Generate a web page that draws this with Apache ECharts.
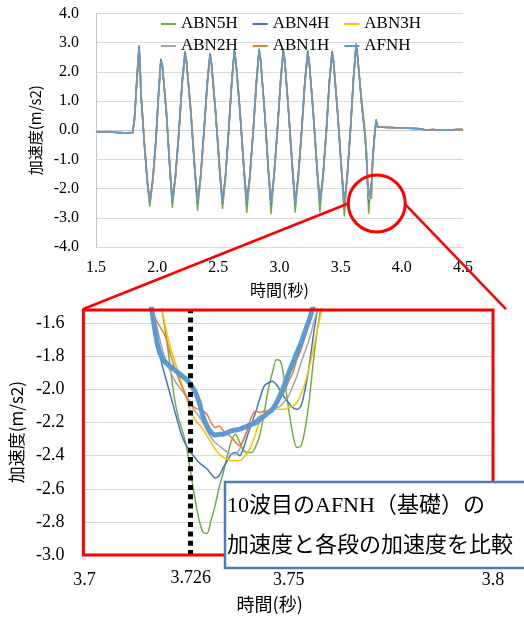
<!DOCTYPE html>
<html>
<head>
<meta charset="utf-8">
<script src="https://cdn.jsdelivr.net/npm/echarts@6/dist/echarts.min.js"></script>
<style>
  html, body { margin: 0; padding: 0; background: #fff; }
  #main { width: 524px; height: 617px; }
</style>
</head>
<body>
<div id="main"></div>
<script>
// Sample times (s): whole record, the 10th-trough detail window, and the settling tail
const timeHead = [
  1.50, 1.55, 1.60, 1.65, 1.70, 1.75, 1.80,
  1.815, 1.835, 1.852,
  1.860, 1.866, 1.895, 1.920, 1.940,
  1.965, 1.990, 2.012, 2.030,
  2.042, 2.075, 2.105, 2.124,
  2.150, 2.178, 2.205, 2.228,
  2.240, 2.275, 2.308, 2.330,
  2.355, 2.383, 2.410, 2.432,
  2.444, 2.478, 2.512, 2.534,
  2.558, 2.585, 2.610, 2.631,
  2.643, 2.677, 2.710, 2.732,
  2.757, 2.785, 2.812, 2.833,
  2.845, 2.878, 2.910, 2.931,
  2.955, 2.983, 3.010, 3.031,
  3.043, 3.075, 3.107, 3.128,
  3.153, 3.181, 3.208, 3.231,
  3.243, 3.276, 3.309, 3.330,
  3.355, 3.383, 3.408, 3.430,
  3.442, 3.476, 3.509, 3.530,
  3.553, 3.580, 3.605, 3.626,
  3.638, 3.672, 3.700
];
const timeFine = [
  3.713, 3.714, 3.715, 3.716, 3.717, 3.718, 3.719, 3.720, 3.721, 3.722,
  3.723, 3.724, 3.725, 3.726, 3.727, 3.728, 3.729, 3.730, 3.731, 3.732,
  3.733, 3.734, 3.735, 3.736, 3.737, 3.738, 3.739, 3.740, 3.741, 3.742,
  3.743, 3.744, 3.745, 3.746, 3.747, 3.748, 3.749, 3.750, 3.751, 3.752,
  3.753, 3.754, 3.755, 3.756, 3.757, 3.758, 3.759, 3.760
];
const timeTail = [
  3.765, 3.772, 3.780, 3.790, 3.797, 3.805, 3.820, 3.850, 3.900, 3.950,
  4.000, 4.050, 4.100, 4.150, 4.200, 4.250, 4.300, 4.350, 4.400, 4.450, 4.500
];

// ABN5H (m/s2)
const abn5hHead = [
  -0.04, -0.07, -0.05, -0.07, -0.10, -0.09, -0.07,
  0.45, 1.85, 2.92,
  2.35, 1.35, -0.45, -1.85, -2.62,
  -1.70, -0.30, 1.35, 2.45,
  2.25, 0.60, -1.45, -2.66,
  -1.60, 0.00, 1.75, 2.72,
  2.35, 0.60, -1.45, -2.76,
  -1.65, 0.00, 1.70, 2.65,
  2.30, 0.55, -1.50, -2.70,
  -1.70, 0.05, 1.75, 2.76,
  2.40, 0.60, -1.45, -2.83,
  -1.65, 0.00, 1.75, 2.80,
  2.45, 0.60, -1.50, -2.88,
  -1.60, 0.05, 1.80, 2.78,
  2.40, 0.55, -1.45, -2.82,
  -1.65, 0.00, 1.75, 2.75,
  2.35, 0.55, -1.50, -2.82,
  -1.65, 0.00, 1.75, 2.72,
  2.35, 0.50, -1.55, -2.95,
  -1.65, 0.05, 1.85, 2.98,
  2.55, 0.85, -0.25
];
const abn5hFine = [
  -0.75, -0.86, -0.98, -1.11, -1.25, -1.38, -1.52, -1.68, -1.86, -2.05,
  -2.17, -2.25, -2.35, -2.50, -2.65, -2.78, -2.86, -2.87, -2.79, -2.70,
  -2.59, -2.50, -2.40, -2.31, -2.27, -2.32, -2.37, -2.38, -2.38, -2.34,
  -2.27, -2.14, -2.00, -1.90, -1.82, -1.83, -1.95, -2.12, -2.27, -2.35,
  -2.34, -2.24, -2.07, -1.84, -1.64, -1.49, -1.36, -1.24
];
const abn5hTail = [
  -0.95, -0.40, 0.05, 0.38, 0.20, 0.10, 0.09, 0.10, 0.08, 0.08,
  0.07, 0.07, 0.06, 0.05, 0.01, 0.02, 0.01, 0.00, 0.01, 0.02, 0.02
];

// ABN4H (m/s2)
const abn4hHead = [
  -0.05, -0.05, -0.06, -0.07, -0.08, -0.10, -0.09,
  0.42, 1.82, 2.85,
  2.40, 1.35, -0.45, -1.80, -2.50,
  -1.65, -0.30, 1.30, 2.40,
  2.25, 0.65, -1.40, -2.45,
  -1.55, 0.00, 1.70, 2.65,
  2.35, 0.65, -1.40, -2.50,
  -1.60, 0.00, 1.65, 2.60,
  2.30, 0.60, -1.45, -2.50,
  -1.60, 0.05, 1.70, 2.72,
  2.40, 0.65, -1.40, -2.52,
  -1.60, 0.00, 1.70, 2.74,
  2.45, 0.65, -1.45, -2.55,
  -1.55, 0.05, 1.75, 2.72,
  2.40, 0.60, -1.40, -2.52,
  -1.60, 0.00, 1.70, 2.70,
  2.35, 0.60, -1.45, -2.52,
  -1.60, 0.00, 1.70, 2.68,
  2.35, 0.55, -1.50, -2.55,
  -1.60, 0.05, 1.80, 2.92,
  2.55, 0.90, -0.20
];
const abn4hFine = [
  -1.10, -1.22, -1.34, -1.46, -1.60, -1.74, -1.85, -1.94, -2.03, -2.12,
  -2.21, -2.29, -2.34, -2.38, -2.41, -2.44, -2.46, -2.48, -2.51, -2.535,
  -2.52, -2.47, -2.43, -2.39, -2.38, -2.40, -2.35, -2.27, -2.20, -2.13,
  -2.05, -1.98, -1.96, -1.95, -1.97, -2.01, -2.05, -2.08, -2.11, -2.12,
  -2.10, -2.00, -1.86, -1.68, -1.52, -1.38, -1.24, -1.10
];
const abn4hTail = [
  -0.75, -0.40, 0.00, 0.32, 0.18, 0.10, 0.09, 0.10, 0.09, 0.08,
  0.07, 0.07, 0.06, 0.05, 0.00, 0.02, 0.01, 0.00, 0.01, 0.02, 0.02
];

// ABN3H (m/s2)
const abn3hHead = [
  -0.06, -0.05, -0.05, -0.08, -0.08, -0.09, -0.09,
  0.30, 1.65, 2.75,
  2.40, 1.45, -0.35, -1.70, -2.45,
  -1.75, -0.45, 1.15, 2.32,
  2.25, 0.75, -1.25, -2.40,
  -1.65, -0.15, 1.55, 2.56,
  2.35, 0.75, -1.25, -2.42,
  -1.70, -0.15, 1.50, 2.52,
  2.30, 0.70, -1.30, -2.42,
  -1.70, -0.10, 1.55, 2.64,
  2.40, 0.75, -1.25, -2.45,
  -1.70, -0.15, 1.55, 2.66,
  2.45, 0.75, -1.30, -2.46,
  -1.65, -0.10, 1.60, 2.64,
  2.40, 0.70, -1.25, -2.45,
  -1.70, -0.15, 1.55, 2.62,
  2.35, 0.70, -1.30, -2.45,
  -1.70, -0.15, 1.55, 2.60,
  2.35, 0.65, -1.35, -2.47,
  -1.70, -0.10, 1.65, 2.85,
  2.55, 1.05, 0.05
];
const abn3hFine = [
  -0.95, -1.05, -1.15, -1.25, -1.35, -1.43, -1.52, -1.64, -1.74, -1.82,
  -1.90, -1.98, -2.06, -2.13, -2.18, -2.21, -2.24, -2.28, -2.32, -2.36,
  -2.39, -2.41, -2.42, -2.43, -2.43, -2.43, -2.41, -2.38, -2.33, -2.26,
  -2.19, -2.15, -2.13, -2.12, -2.12, -2.12, -2.12, -2.11, -2.10, -2.08,
  -2.03, -1.96, -1.87, -1.76, -1.64, -1.53, -1.42, -1.30
];
const abn3hTail = [
  -0.90, -0.55, -0.15, 0.26, 0.20, 0.11, 0.09, 0.10, 0.09, 0.08,
  0.08, 0.07, 0.06, 0.05, 0.01, 0.02, 0.01, 0.00, 0.01, 0.02, 0.02
];

// ABN2H (m/s2)
const abn2hHead = [
  -0.05, -0.06, -0.04, -0.07, -0.09, -0.10, -0.08,
  0.38, 1.75, 2.78,
  2.35, 1.35, -0.45, -1.75, -2.48,
  -1.68, -0.35, 1.25, 2.35,
  2.22, 0.65, -1.35, -2.44,
  -1.58, -0.05, 1.65, 2.58,
  2.32, 0.65, -1.35, -2.46,
  -1.62, -0.05, 1.60, 2.54,
  2.27, 0.60, -1.40, -2.46,
  -1.62, 0.00, 1.65, 2.66,
  2.37, 0.65, -1.35, -2.48,
  -1.62, -0.05, 1.65, 2.68,
  2.42, 0.65, -1.40, -2.50,
  -1.58, 0.00, 1.70, 2.66,
  2.37, 0.60, -1.35, -2.48,
  -1.62, -0.05, 1.65, 2.63,
  2.32, 0.60, -1.40, -2.48,
  -1.62, -0.05, 1.65, 2.61,
  2.32, 0.55, -1.45, -2.50,
  -1.62, 0.00, 1.75, 2.86,
  2.52, 0.95, -0.15
];
const abn2hFine = [
  -1.10, -1.20, -1.30, -1.42, -1.54, -1.65, -1.75, -1.83, -1.89, -1.94,
  -1.98, -2.01, -2.05, -2.09, -2.13, -2.16, -2.20, -2.25, -2.29, -2.32,
  -2.34, -2.36, -2.38, -2.39, -2.39, -2.36, -2.30, -2.24, -2.20, -2.18,
  -2.16, -2.15, -2.14, -2.12, -2.11, -2.10, -2.07, -2.04, -1.98, -1.92,
  -1.84, -1.77, -1.70, -1.61, -1.52, -1.43, -1.34, -1.25
];
const abn2hTail = [
  -0.85, -0.48, -0.08, 0.29, 0.19, 0.10, 0.09, 0.10, 0.09, 0.08,
  0.08, 0.07, 0.06, 0.05, 0.00, 0.02, 0.01, 0.00, 0.01, 0.02, 0.02
];

// ABN1H (m/s2)
const abn1hHead = [
  -0.06, -0.05, -0.06, -0.07, -0.08, -0.10, -0.08,
  0.35, 1.70, 2.76,
  2.38, 1.40, -0.40, -1.72, -2.46,
  -1.72, -0.40, 1.20, 2.34,
  2.24, 0.70, -1.30, -2.42,
  -1.62, -0.10, 1.60, 2.58,
  2.34, 0.70, -1.30, -2.44,
  -1.66, -0.10, 1.55, 2.53,
  2.29, 0.65, -1.35, -2.44,
  -1.66, -0.05, 1.60, 2.66,
  2.39, 0.70, -1.30, -2.46,
  -1.66, -0.10, 1.60, 2.68,
  2.44, 0.70, -1.35, -2.48,
  -1.62, -0.05, 1.65, 2.66,
  2.39, 0.65, -1.30, -2.46,
  -1.66, -0.10, 1.60, 2.63,
  2.34, 0.65, -1.35, -2.46,
  -1.66, -0.10, 1.60, 2.61,
  2.34, 0.60, -1.40, -2.48,
  -1.66, -0.05, 1.70, 2.86,
  2.54, 0.95, -0.25
];
const abn1hFine = [
  -1.20, -1.30, -1.40, -1.48, -1.55, -1.60, -1.64, -1.69, -1.78, -1.86,
  -1.93, -1.99, -2.04, -2.08, -2.11, -2.12, -2.13, -2.15, -2.20, -2.23,
  -2.22, -2.25, -2.27, -2.29, -2.32, -2.34, -2.30, -2.23, -2.16, -2.13,
  -2.14, -2.13, -2.13, -2.11, -2.08, -2.05, -2.01, -1.95, -1.90, -1.82,
  -1.76, -1.68, -1.60, -1.51, -1.42, -1.33, -1.24, -1.15
];
const abn1hTail = [
  -0.80, -0.45, -0.05, 0.31, 0.18, 0.10, 0.09, 0.10, 0.09, 0.08,
  0.08, 0.07, 0.06, 0.05, 0.00, 0.02, 0.01, 0.00, 0.01, 0.02, 0.02
];

// AFNH (m/s2)
const afnhHead = [
  -0.05, -0.06, -0.05, -0.08, -0.09, -0.10, -0.08,
  0.40, 1.80, 2.80,
  2.30, 1.30, -0.50, -1.80, -2.45,
  -1.60, -0.30, 1.30, 2.36,
  2.20, 0.60, -1.40, -2.42,
  -1.50, 0.00, 1.70, 2.60,
  2.30, 0.60, -1.40, -2.45,
  -1.55, 0.00, 1.65, 2.55,
  2.25, 0.55, -1.45, -2.45,
  -1.55, 0.05, 1.70, 2.68,
  2.35, 0.60, -1.40, -2.48,
  -1.55, 0.00, 1.70, 2.70,
  2.40, 0.60, -1.45, -2.50,
  -1.50, 0.05, 1.75, 2.68,
  2.35, 0.55, -1.40, -2.48,
  -1.55, 0.00, 1.70, 2.65,
  2.30, 0.55, -1.45, -2.48,
  -1.55, 0.00, 1.70, 2.63,
  2.30, 0.50, -1.50, -2.50,
  -1.55, 0.05, 1.80, 2.88,
  2.50, 0.90, -0.20
];
const afnhFine = [
  -1.05, -1.18, -1.30, -1.44, -1.60, -1.74, -1.81, -1.84, -1.86, -1.88,
  -1.90, -1.92, -1.94, -1.97, -2.01, -2.07, -2.16, -2.22, -2.26, -2.275,
  -2.27, -2.27, -2.26, -2.25, -2.245, -2.24, -2.23, -2.22, -2.21, -2.20,
  -2.18, -2.16, -2.14, -2.12, -2.08, -2.03, -1.97, -1.90, -1.84, -1.78,
  -1.72, -1.65, -1.58, -1.50, -1.42, -1.34, -1.26, -1.18
];
const afnhTail = [
  -0.80, -0.45, -0.05, 0.30, 0.18, 0.10, 0.09, 0.10, 0.09, 0.08,
  0.08, 0.07, 0.07, 0.05, 0.00, 0.02, 0.01, 0.00, 0.01, 0.02, 0.02
];

const seriesNames = ['ABN5H', 'ABN4H', 'ABN3H', 'ABN2H', 'ABN1H', 'AFNH'];
const seriesColors = ['#70AD47', '#4472C4', '#FFC000', '#A5A5A5', '#ED7D31', '#5B9BD5'];
const seriesParts = [
  [abn5hHead, abn5hFine, abn5hTail],
  [abn4hHead, abn4hFine, abn4hTail],
  [abn3hHead, abn3hFine, abn3hTail],
  [abn2hHead, abn2hFine, abn2hTail],
  [abn1hHead, abn1hFine, abn1hTail],
  [afnhHead, afnhFine, afnhTail]
];
const markTime = 3.726;
const noteLines = ['10波目のAFNH（基礎）の', '加速度と各段の加速度を比較'];

const SERIF = "'Liberation Serif', 'Times New Roman', 'Noto Sans CJK JP', serif";
const SANS = "'Noto Sans CJK JP', 'Noto Sans', sans-serif";

const timeAll = timeHead.concat(timeFine, timeTail);
function toPairs(parts) {
  const vals = parts[0].concat(parts[1], parts[2]);
  return timeAll.map((t, i) => [t, vals[i]]);
}

const Y2_MIN = -3.0, Y2_MAX = -1.515;

const series = [];
// overview plot
seriesNames.forEach((name, i) => {
  series.push({
    name: name, type: 'line', xAxisIndex: 0, yAxisIndex: 0,
    data: toPairs(seriesParts[i]), symbol: 'none', showSymbol: false,
    lineStyle: { color: seriesColors[i], width: 1.5 },
    itemStyle: { color: seriesColors[i] },
    z: 2 + i * 0.01
  });
});
// magnified plot around the 10th trough
seriesNames.forEach((name, i) => {
  const isBase = name === 'AFNH';
  const s = {
    name: name, type: 'line', xAxisIndex: 1, yAxisIndex: 1,
    data: toPairs(seriesParts[i]), symbol: 'none', showSymbol: false, smooth: 0.3,
    clip: true,
    lineStyle: { color: seriesColors[i], width: isBase ? 5 : 1.5 },
    itemStyle: { color: seriesColors[i] },
    z: 3 + i * 0.01
  };
  if (isBase) {
    s.markLine = {
      silent: true, symbol: 'none', animation: false, precision: 3,
      lineStyle: { color: '#000', width: 5, type: [5, 4.3] },
      label: {
        show: true, position: 'start', distance: 14, formatter: String(markTime),
        fontFamily: SERIF, fontSize: 18, color: '#000'
      },
      data: [[{ coord: [markTime, Y2_MIN] }, { coord: [markTime, Y2_MAX] }]]
    };
  }
  series.push(s);
});

const legendText = { fontFamily: SERIF, fontSize: 17, color: '#000', lineHeight: 20 };
const legendBase = { icon: 'rect', itemWidth: 15, itemHeight: 2, itemGap: 15, padding: 0, left: 161, textStyle: legendText };

const option = {
  animation: false,
  backgroundColor: '#ffffff',
  legend: [
    Object.assign({ data: seriesNames.slice(0, 3), top: 14 }, legendBase),
    Object.assign({ data: seriesNames.slice(3, 6), top: 36 }, legendBase)
  ],
  grid: [
    { left: 96, top: 13.4, width: 367, height: 233.6 },
    { left: 83, top: 309.2, width: 410, height: 245.8 }
  ],
  xAxis: [
    {
      type: 'value', gridIndex: 0, min: 1.5, max: 4.5, interval: 0.5,
      axisLine: { show: true, lineStyle: { color: '#c8c8c8', width: 1 } },
      axisTick: { show: false }, splitLine: { show: false },
      axisLabel: { formatter: v => v.toFixed(1), fontFamily: SERIF, fontSize: 16, color: '#000', margin: 13 },
      name: '時間(秒)', nameLocation: 'middle', nameGap: 35,
      nameTextStyle: { fontFamily: SANS, fontSize: 16, color: '#000' }
    },
    {
      type: 'value', gridIndex: 1, min: 3.7, max: 3.8, interval: 0.05,
      axisLine: { show: false }, axisTick: { show: false }, splitLine: { show: false },
      axisLabel: { formatter: v => String(+v.toFixed(3)), fontFamily: SERIF, fontSize: 18, color: '#000', margin: 16 },
      name: '時間(秒)', nameLocation: 'middle', nameGap: 40,
      nameTextStyle: { fontFamily: SANS, fontSize: 18, color: '#000', padding: [0, 38, 0, 0] }
    }
  ],
  yAxis: [
    {
      type: 'value', gridIndex: 0, min: -4, max: 4, interval: 1,
      axisLine: { show: true, lineStyle: { color: '#c8c8c8', width: 1 } },
      axisTick: { show: false },
      splitLine: { lineStyle: { color: '#d9d9d9', width: 1 } },
      axisLabel: { formatter: v => v.toFixed(1), fontFamily: SERIF, fontSize: 16, color: '#000', margin: 17 },
      name: '加速度(m/s2)', nameLocation: 'middle', nameGap: 50, nameRotate: 90,
      nameTextStyle: { fontFamily: SANS, fontSize: 15, color: '#000' }
    },
    {
      type: 'value', gridIndex: 1, min: Y2_MIN, max: Y2_MAX, interval: 0.2,
      axisLine: { show: false }, axisTick: { show: false },
      splitLine: { lineStyle: { color: '#d9d9d9', width: 1 } },
      axisLabel: { showMaxLabel: false, formatter: v => v.toFixed(1), fontFamily: SERIF, fontSize: 18, color: '#000', margin: 20 },
      name: '加速度(m/s2)', nameLocation: 'middle', nameGap: 50, nameRotate: 90,
      nameTextStyle: { fontFamily: SANS, fontSize: 17, color: '#000' }
    }
  ],
  series: series
};

const chart = echarts.init(document.getElementById('main'), null, { renderer: 'canvas' });
chart.setOption(option);

// Magnifier frame, circle and connectors, plus the note box
const ctr = chart.convertToPixel({ gridIndex: 0 }, [3.795, -2.51]);
const tl = chart.convertToPixel({ gridIndex: 1 }, [3.7, -1.52]);
const br = chart.convertToPixel({ gridIndex: 1 }, [3.8, -3.0]);
const r = 28.5;
const RED = '#ff0000';
chart.setOption({
  graphic: [
    { type: 'rect', z: 100, silent: true,
      shape: { x: tl[0] - 1, y: tl[1], width: br[0] - tl[0] + 1, height: br[1] - tl[1] },
      style: { fill: null, stroke: RED, lineWidth: 3 } },
    { type: 'circle', z: 100, silent: true,
      shape: { cx: ctr[0], cy: ctr[1], r: r },
      style: { fill: null, stroke: RED, lineWidth: 3 } },
    { type: 'line', z: 100, silent: true,
      shape: { x1: tl[0] - 1, y1: tl[1] - 1, x2: ctr[0] - r, y2: ctr[1] },
      style: { stroke: RED, lineWidth: 2.5 } },
    { type: 'line', z: 100, silent: true,
      shape: { x1: ctr[0] + r, y1: ctr[1] + 1, x2: br[0] + 13, y2: tl[1] - 1 },
      style: { stroke: RED, lineWidth: 2.5 } },
    { type: 'rect', z: 110, silent: true,
      shape: { x: 225, y: 482, width: 330, height: 86 },
      style: { fill: '#ffffff', stroke: '#4a7ebb', lineWidth: 2.5 } },
    { type: 'text', z: 111, silent: true, x: 227, y: 506,
      style: { text: noteLines[0], fontFamily: SERIF, fontSize: 22, fill: '#000', verticalAlign: 'middle', align: 'left' } },
    { type: 'text', z: 111, silent: true, x: 227, y: 546,
      style: { text: noteLines[1], fontFamily: SERIF, fontSize: 22, fill: '#000', verticalAlign: 'middle', align: 'left' } }
  ]
});
</script>
</body>
</html>
